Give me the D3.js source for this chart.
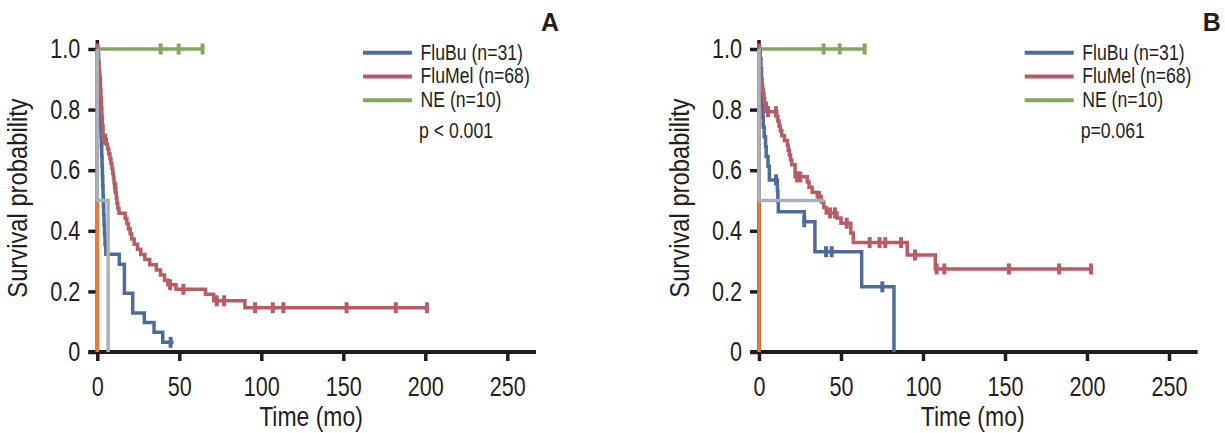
<!DOCTYPE html>
<html>
<head>
<meta charset="utf-8">
<script src="https://cdnjs.cloudflare.com/ajax/libs/d3/7.8.5/d3.min.js"></script>
<style>
  html, body { margin: 0; padding: 0; background: #fff; }
  svg { display: block; }
  text { font-family: "Liberation Sans", Arial, sans-serif; fill: #231f20; }
</style>
</head>
<body>
<svg id="chart" width="1225" height="433"></svg>
<script>
// ---------------- DATA ----------------
const xTicks = [0, 50, 100, 150, 200, 250];
const yTicks = [0, 0.2, 0.4, 0.6, 0.8, 1.0];
const seriesNames = ["FluBu (n=31)", "FluMel (n=68)", "NE (n=10)"];
const panelLabels = ["A", "B"];
const pValues = ["p < 0.001", "p=0.061"];

// Panel A
const aFluBuTimes  = [0, 0.3, 0.6, 0.9, 1.2, 1.5, 1.7, 1.9, 2.1, 2.3, 2.5, 2.7, 2.9, 3.1, 3.3, 3.5, 3.7, 3.9, 4.1, 4.4, 4.7, 5.2, 13.4, 16.5, 21.6, 28.7, 34.6, 39.9];
const aFluBuSurv   = [1.0, 0.968, 0.935, 0.903, 0.871, 0.839, 0.806, 0.774, 0.742, 0.710, 0.677, 0.645, 0.613, 0.581, 0.548, 0.516, 0.484, 0.452, 0.419, 0.387, 0.355, 0.323, 0.290, 0.194, 0.129, 0.097, 0.065, 0.032];
const aFluBuCensor = [44.7];
const aFluBuEnd    = 46.5;

const aFluMelTimes  = [0, 0.3, 0.8, 1.2, 1.5, 1.9, 2.2, 2.5, 2.8, 3.1, 3.5, 3.9, 5.5, 6.3, 7.0, 7.7, 8.3, 8.9, 9.4, 9.8, 10.2, 10.6, 11.2, 11.6, 12.0, 12.5, 13.2, 17.0, 18.0, 19.0, 20.0, 21.0, 22.5, 24.5, 26.5, 29.0, 32.0, 36.0, 38.5, 41.0, 43.0, 48.0, 66.0, 71.0, 90.0];
const aFluMelSurv   = [1.0, 0.985, 0.956, 0.926, 0.897, 0.867, 0.837, 0.807, 0.777, 0.747, 0.717, 0.702, 0.686, 0.670, 0.654, 0.638, 0.622, 0.606, 0.590, 0.574, 0.558, 0.542, 0.525, 0.508, 0.491, 0.474, 0.458, 0.441, 0.424, 0.407, 0.390, 0.373, 0.356, 0.339, 0.322, 0.305, 0.288, 0.271, 0.254, 0.237, 0.222, 0.207, 0.191, 0.169, 0.146];
const aFluMelCensor = [0.2, 1.6, 4.7, 11.0, 44.4, 52.5, 72.8, 77.3, 96.2, 107.0, 113.5, 152.0, 182.0, 201.0];
const aFluMelEnd    = 201.3;

const aNETimes  = [0];
const aNESurv   = [1.0];
const aNECensor = [38.6, 49.6, 64.2];
const aNEEnd    = 64.6;

const aGrayTimes  = [0, 0, 6.6];
const aGraySurv   = [1.0, 0.5, 0];
const aGrayEnd    = 6.6;

const aOrangeTimes = [0, 0, 0];
const aOrangeSurv  = [1.0, 0.5, 0];
const aOrangeEnd   = 0;

// Panel B
const bFluBuTimes  = [0, 0.8, 1.2, 1.5, 1.8, 2.0, 2.2, 2.4, 2.6, 3.2, 4.0, 4.4, 5.5, 6.3, 11.2, 11.5, 11.8, 27.6, 34.1, 62.6, 82.3];
const bFluBuSurv   = [1.0, 0.968, 0.935, 0.903, 0.871, 0.839, 0.806, 0.774, 0.742, 0.710, 0.677, 0.645, 0.613, 0.568, 0.532, 0.497, 0.463, 0.430, 0.331, 0.215, 0];
const bFluBuCensor = [10.4, 27.6, 40.9, 44.3, 75.2];
const bFluBuEnd    = 82.3;

const bFluMelTimes  = [0, 0.3, 0.5, 0.7, 0.8, 1.8, 2.2, 2.6, 3.0, 3.4, 4.0, 4.9, 10.8, 11.5, 12.2, 13.0, 13.9, 15.5, 17.3, 17.8, 18.5, 19.2, 20.0, 22.0, 29.4, 30.5, 32.4, 35.5, 38.0, 39.5, 41.0, 47.5, 50.0, 56.0, 57.5, 90.4, 107.5];
const bFluMelSurv   = [1.0, 0.985, 0.956, 0.926, 0.897, 0.882, 0.867, 0.852, 0.837, 0.822, 0.807, 0.793, 0.777, 0.762, 0.746, 0.730, 0.714, 0.698, 0.682, 0.666, 0.650, 0.634, 0.618, 0.578, 0.561, 0.544, 0.527, 0.513, 0.495, 0.477, 0.459, 0.442, 0.425, 0.393, 0.361, 0.320, 0.274];
const bFluMelCensor = [0.2, 0.9, 4.3, 5.5, 10.4, 23.2, 25.2, 36.6, 43.3, 46.3, 53.5, 67.5, 73.5, 77.0, 86.6, 95.1, 108.3, 113.0, 152.4, 183.0, 202.4];
const bFluMelEnd    = 203.0;

const bNETimes  = [0];
const bNESurv   = [1.0];
const bNECensor = [39.4, 49.2, 64.4];
const bNEEnd    = 64.8;

const bGrayTimes  = [0, 0];
const bGraySurv   = [1.0, 0.5];
const bGrayEnd    = 40.0;

const bOrangeTimes = [0, 0, 0];
const bOrangeSurv  = [1.0, 0.5, 0];
const bOrangeEnd   = 0;

// ---------------- STYLE ----------------
const colors = { flubu: "#4f6b9b", flumel: "#b65d66", ne: "#84a75f", gray: "#aab0b9", orange: "#e97a3a" };
const axisColor = "#1d1b1c";

const panels = [
  { off: 0, label: panelLabels[0], p: pValues[0],
    series: [
      { key: "orange", t: aOrangeTimes, s: aOrangeSurv, c: [], end: aOrangeEnd },
      { key: "flubu", t: aFluBuTimes, s: aFluBuSurv, c: aFluBuCensor, end: aFluBuEnd },
      { key: "flumel", t: aFluMelTimes, s: aFluMelSurv, c: aFluMelCensor, end: aFluMelEnd },
      { key: "ne", t: aNETimes, s: aNESurv, c: aNECensor, end: aNEEnd },
      { key: "gray", t: aGrayTimes, s: aGraySurv, c: [], end: aGrayEnd }
    ] },
  { off: 661.7, label: panelLabels[1], p: pValues[1],
    series: [
      { key: "orange", t: bOrangeTimes, s: bOrangeSurv, c: [], end: bOrangeEnd },
      { key: "flubu", t: bFluBuTimes, s: bFluBuSurv, c: bFluBuCensor, end: bFluBuEnd },
      { key: "flumel", t: bFluMelTimes, s: bFluMelSurv, c: bFluMelCensor, end: bFluMelEnd },
      { key: "ne", t: bNETimes, s: bNESurv, c: bNECensor, end: bNEEnd },
      { key: "gray", t: bGrayTimes, s: bGraySurv, c: [], end: bGrayEnd }
    ] }
];

const svg = d3.select("#chart");
const y = d3.scaleLinear().domain([0, 1]).range([352, 49]);

function stepPoints(ts, ss, end) {
  const pts = [];
  let prev = null;
  ts.forEach((t, i) => {
    if (prev !== null) pts.push([t, prev]);
    pts.push([t, ss[i]]);
    prev = ss[i];
  });
  pts.push([Math.max(end, ts[ts.length - 1]), prev]);
  return pts;
}
function survAt(ts, ss, t) {
  let v = ss[0];
  ts.forEach((tt, i) => { if (tt <= t) v = ss[i]; });
  return v;
}

panels.forEach(P => {
  const g = svg.append("g");
  const x = d3.scaleLinear().domain([0, 250]).range([97.3 + P.off, 507.3 + P.off]);

  // axis lines
  g.append("line").attr("x1", 88.5 + P.off).attr("x2", 536 + P.off)
    .attr("y1", y(0)).attr("y2", y(0)).attr("stroke", axisColor).attr("stroke-width", 3.8);
  g.append("line").attr("x1", x(0)).attr("x2", x(0))
    .attr("y1", y(0)).attr("y2", y(1) - 9).attr("stroke", axisColor).attr("stroke-width", 3.5);

  const fontSize = 27;
  const xAxis = g.append("g").attr("transform", `translate(0,${y(0)})`)
    .call(d3.axisBottom(x).tickValues(xTicks).tickSize(9).tickPadding(16).tickFormat(d3.format("d")));
  xAxis.select(".domain").remove();
  xAxis.selectAll(".tick line").attr("stroke", axisColor).attr("stroke-width", 3.5);
  xAxis.selectAll(".tick text").attr("font-size", fontSize).attr("fill", "#231f20")
    .attr("data-k", 0.8).style("font-family", '"Liberation Sans", Arial, sans-serif');

  const yAxis = g.append("g").attr("transform", `translate(${x(0)},0)`)
    .call(d3.axisLeft(y).tickValues(yTicks).tickSize(9).tickPadding(8)
      .tickFormat(d => d === 0 ? "0" : d3.format(".1f")(d)));
  yAxis.select(".domain").remove();
  yAxis.selectAll(".tick line").attr("stroke", axisColor).attr("stroke-width", 3.5);
  yAxis.selectAll(".tick text").attr("font-size", fontSize).attr("fill", "#231f20")
    .attr("data-k", 0.8).style("font-family", '"Liberation Sans", Arial, sans-serif');

  // axis titles
  g.append("text").attr("data-k", 0.85).attr("x", 311 + P.off).attr("y", 426).attr("text-anchor", "middle")
    .attr("font-size", fontSize).text("Time (mo)");
  g.append("text").attr("data-k", 0.88).attr("transform", `translate(${27 + P.off},198) rotate(-90)`)
    .attr("text-anchor", "middle").attr("font-size", fontSize).text("Survival probability");

  // curves
  const line = d3.line().x(d => x(d[0])).y(d => y(d[1]));
  P.series.forEach(S => {
    const pts = stepPoints(S.t, S.s, S.end);
    g.append("path").attr("d", line(pts)).attr("fill", "none")
      .attr("stroke", colors[S.key]).attr("stroke-width", 3.5).attr("stroke-linejoin", "miter");
    g.selectAll(null).data(S.c).enter().append("line")
      .attr("x1", d => x(d)).attr("x2", d => x(d))
      .attr("y1", d => y(survAt(S.t, S.s, d)) - 5.5)
      .attr("y2", d => y(survAt(S.t, S.s, d)) + 5.5)
      .attr("stroke", colors[S.key]).attr("stroke-width", 4);
  });

  // legend
  const legKeys = ["flubu", "flumel", "ne"];
  legKeys.forEach((k, i) => {
    g.append("line").attr("x1", 363 + P.off).attr("x2", 412 + P.off)
      .attr("y1", 52.7 + i * 23.8).attr("y2", 52.7 + i * 23.8)
      .attr("stroke", colors[k]).attr("stroke-width", 4);
    g.append("text").attr("data-k", 0.82).attr("x", 420.5 + P.off).attr("y", 59.5 + i * 23.8)
      .attr("font-size", 21.5).text(seriesNames[i]);
  });
  g.append("text").attr("data-k", 0.82).attr("x", 419 + P.off).attr("y", 138.3)
    .attr("font-size", 21.5).text(P.p);

  // panel label
  g.append("text").attr("x", 541 + P.off).attr("y", 31).attr("font-size", 25)
    .attr("font-weight", "bold").text(P.label);
});

// condense the label font horizontally (reference uses a condensed face)
svg.selectAll("text[data-k]").each(function () {
  const k = +this.getAttribute("data-k");
  const w = this.getComputedTextLength();
  d3.select(this).attr("textLength", w * k).attr("lengthAdjust", "spacingAndGlyphs");
});
</script>
</body>
</html>
